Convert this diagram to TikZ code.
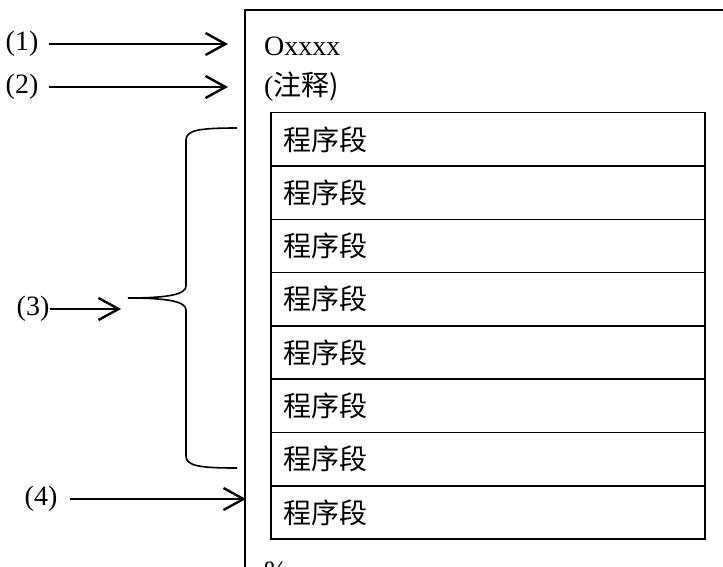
\documentclass[tikz,border=0pt]{standalone}
\usepackage{fontspec}
\setmainfont{Liberation Serif}
\newfontfamily\cjk{Noto Sans CJK SC}
\usetikzlibrary{arrows.meta,positioning}

\begin{document}
\begin{tikzpicture}[x=1pt,y=-1pt,
	font=\fontsize{28}{32}\selectfont,
	arr/.style = {line width=2.4pt,-{Straight Barb[length=20pt,width=22pt]}},
	lab node/.style = {inner sep=0pt},
	seg box/.style = {draw,line width=1.5pt,outer sep=0pt,inner xsep=12pt,inner ysep=0pt,
		text width=410pt,align=left,minimum height=53.3pt,font=\fontsize{28}{32}\selectfont\cjk}]
	\useasboundingbox (0,0) rectangle (723,566);
	% outer frame (cut off at right and bottom)
	\draw[line width=2pt] (245,600) -- (245,10) -- (760,10);
	
	\node[lab node,anchor=base west] (head) at (264,55) {Oxxxx};
	\node[lab node,anchor=west] (note) at (264,87) {(\cjk 注释)};
	\node[seg box,anchor=north west] (s1) at (271,112.7) {程序段};
	\foreach \i [remember=\i as \j (initially 1)] in {2,...,8}
		\node[seg box,below=0pt of s\j] (s\i) {程序段};
	\node[lab node,anchor=base west] (pct) at (264,580) {\%};
	
	\node[lab node] (1) at (22,44) {(1)};
	\node[lab node] (2) at (22,87) {(2)};
	\node[lab node] (3) at (33,309) {(3)};
	\node[lab node] (4) at (41,499) {(4)};
	\coordinate (p1) at (228,44);
	\coordinate (p2) at (228,87);
	\coordinate (p3) at (121,309);
	\coordinate (p4) at (246,499);
	
	\draw[arr,shorten <=10pt] (1.east) -- (p1);
	\draw[arr,shorten <=10pt] (2.east) -- (p2);
	\draw[arr] (3.east) -- (p3);
	\draw[arr,shorten <=12pt] (4.east) -- (p4);
	
	% brace
	\coordinate (tip) at (128,298);
	\draw[line width=1.6pt] (237,128) .. controls (200,128) and (186,130) .. (186,140)
		-- (186,286) .. controls (186,294) and (170,298) .. (tip)
		.. controls (170,298) and (186,302) .. (186,310)
		-- (186,456) .. controls (186,466) and (200,468) .. (237,468);
	\end{tikzpicture}
\end{document}
